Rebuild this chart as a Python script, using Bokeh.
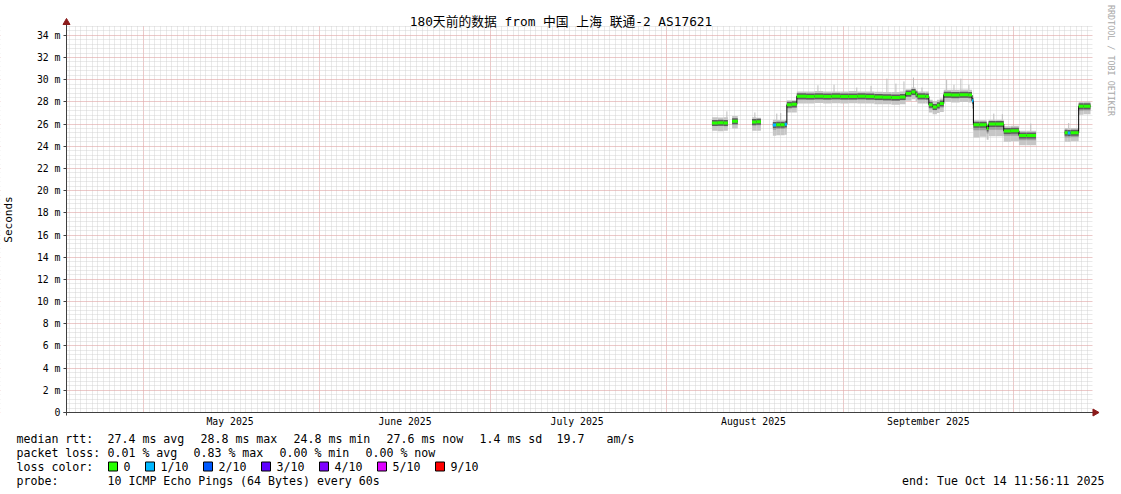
import math
import pandas as pd
from bokeh.plotting import figure
from bokeh.models import Range1d, FixedTicker, ColumnDataSource
from bokeh.core.properties import value
from bokeh.embed import file_html
from bokeh.resources import INLINE

MONO = "'DejaVu Sans Mono', 'Noto Sans CJK SC', monospace"

# ---------------- data ----------------
title_text = "180天前的数据 from 中国 上海 联通-2 AS17621"
range_start = "2025-04-17 11:56:11"
range_end = "2025-10-14 11:56:11"
y_top = 34.8

month_starts = ["2025-05-01", "2025-06-01", "2025-07-01", "2025-08-01",
                "2025-09-01", "2025-10-01"]
month_label_pos = ["2025-05-16 06:00", "2025-06-16 00:00", "2025-07-16 06:00",
                   "2025-08-16 06:00", "2025-09-16 00:00"]
month_labels = ["May 2025", "June 2025", "July 2025", "August 2025",
                "September 2025"]

y_ticks = [0, 2, 4, 6, 8, 10, 12, 14, 16, 18, 20, 22, 24, 26, 28, 30, 32, 34]
y_tick_labels = ["0", "2 m", "4 m", "6 m", "8 m", "10 m", "12 m", "14 m",
                 "16 m", "18 m", "20 m", "22 m", "24 m", "26 m", "28 m",
                 "30 m", "32 m", "34 m"]

# samples: each one lasts until the next start; None median = no data
sample_start = [
    "2025-08-08 23:00", "2025-08-10 00:00", "2025-08-11 00:00", "2025-08-11 18:00",
    "2025-08-12 12:00", "2025-08-13 12:00",
    "2025-08-16 00:00", "2025-08-16 18:00", "2025-08-17 13:30",
    "2025-08-19 16:00", "2025-08-20 06:00", "2025-08-21 00:00", "2025-08-21 18:00",
    "2025-08-22 03:00", "2025-08-23 00:00",
    "2025-08-23 21:00", "2025-08-25 12:00", "2025-08-27 00:00", "2025-08-28 12:00",
    "2025-08-30 00:00", "2025-08-31 12:00", "2025-09-02 00:00", "2025-09-03 12:00",
    "2025-09-05 00:00", "2025-09-06 12:00", "2025-09-08 00:00", "2025-09-09 12:00",
    "2025-09-11 00:00", "2025-09-12 00:00", "2025-09-13 00:00", "2025-09-13 18:00",
    "2025-09-14 02:00", "2025-09-15 12:00", "2025-09-16 02:00", "2025-09-16 18:00",
    "2025-09-17 12:00", "2025-09-18 00:00", "2025-09-18 17:00", "2025-09-20 00:00",
    "2025-09-21 12:00", "2025-09-23 00:00", "2025-09-23 16:00", "2025-09-23 22:00",
    "2025-09-25 00:00", "2025-09-26 06:00", "2025-09-26 14:00", "2025-09-27 18:00",
    "2025-09-29 06:00", "2025-09-30 12:00", "2025-10-01 22:00", "2025-10-03 06:00",
    "2025-10-04 22:00",
    "2025-10-09 23:00", "2025-10-10 12:00", "2025-10-11 00:00", "2025-10-12 10:00",
    "2025-10-13 06:00", "2025-10-14 11:56",
]
median_ms = [
    26.10, 26.12, 26.10, None,
    26.25, None,
    26.20, 26.22, None,
    25.92, 25.95, 25.95, 25.98,
    27.75, 27.78,
    28.52, 28.50, 28.52, 28.50,
    28.52, 28.50, 28.50, 28.52,
    28.48, 28.45, 28.42, 28.40,
    28.45, 28.75, 28.90, 28.70,
    28.52, 28.50, 27.75, 27.55,
    27.70, 27.85, 28.65, 28.62,
    28.65, 28.62, 28.10, 25.95,
    25.95, 25.60, 26.00, 26.00,
    25.38, 25.40, 24.98, 24.98,
    None,
    25.22, 25.20, 25.22, 27.60,
    27.62, None,
]
smoke_lo = [
    25.40, 25.35, 25.40, None,
    25.60, None,
    25.40, 25.40, None,
    24.95, 25.00, 25.00, 25.05,
    27.05, 27.05,
    27.85, 27.85, 27.90, 27.85,
    27.88, 27.85, 27.88, 27.85,
    27.85, 27.80, 27.78, 27.75,
    27.80, 28.10, 28.25, 28.05,
    27.85, 27.85, 27.05, 26.90,
    27.00, 27.10, 28.00, 27.95,
    28.00, 27.95, 27.40, 24.80,
    24.85, 24.60, 24.90, 24.90,
    24.40, 24.45, 24.10, 24.10,
    None,
    24.40, 24.40, 24.45, 26.85,
    26.90, None,
]
smoke_q1 = [
    25.85, 25.85, 25.80, None,
    25.95, None,
    25.85, 25.90, None,
    25.50, 25.55, 25.55, 25.60,
    27.40, 27.45,
    28.20, 28.20, 28.22, 28.20,
    28.22, 28.20, 28.20, 28.22,
    28.18, 28.15, 28.12, 28.10,
    28.15, 28.45, 28.60, 28.40,
    28.20, 28.20, 27.40, 27.25,
    27.35, 27.50, 28.35, 28.30,
    28.35, 28.30, 27.80, 25.45,
    25.45, 25.15, 25.50, 25.50,
    24.95, 24.95, 24.55, 24.55,
    None,
    24.80, 24.80, 24.82, 27.20,
    27.22, None,
]
smoke_q3 = [
    26.35, 26.35, 26.35, None,
    26.45, None,
    26.40, 26.40, None,
    26.15, 26.15, 26.12, 26.15,
    27.95, 27.98,
    28.70, 28.70, 28.72, 28.70,
    28.72, 28.70, 28.70, 28.72,
    28.68, 28.65, 28.62, 28.62,
    28.65, 28.95, 29.10, 28.90,
    28.72, 28.70, 27.95, 27.80,
    27.95, 28.05, 28.85, 28.85,
    28.88, 28.85, 28.30, 26.15,
    26.12, 25.80, 26.20, 26.18,
    25.58, 25.60, 25.18, 25.20,
    None,
    25.42, 25.40, 25.42, 27.80,
    27.82, None,
]
smoke_hi = [
    26.62, 26.60, 26.62, None,
    26.72, None,
    26.62, 26.58, None,
    26.40, 26.38, 26.35, 26.40,
    28.15, 28.15,
    28.95, 28.95, 28.98, 28.95,
    28.95, 28.95, 28.98, 28.95,
    28.95, 28.92, 28.90, 28.90,
    28.95, 29.15, 29.30, 29.10,
    28.95, 28.95, 28.20, 28.05,
    28.20, 28.30, 29.10, 29.10,
    29.12, 29.10, 28.55, 26.35,
    26.35, 26.05, 26.40, 26.40,
    25.80, 25.85, 25.40, 25.40,
    None,
    25.65, 25.65, 25.65, 28.00,
    28.02, None,
]
loss_count = [
    0, 0, 0, 0,
    0, 0,
    0, 0, 0,
    1, 0, 0, 1,
    0, 0,
    0, 0, 0, 0,
    0, 0, 0, 0,
    0, 0, 0, 0,
    0, 0, 0, 0,
    0, 0, 0, 0,
    0, 0, 0, 0,
    0, 0, 1, 0,
    0, 0, 0, 0,
    0, 0, 0, 0,
    0,
    0, 1, 0, 0,
    0, 0,
]

# occasional single high pings (smoke spikes)
spike_time = ["2025-08-11 14:00", "2025-08-16 12:00", "2025-08-20 08:30",
              "2025-08-21 01:00", "2025-08-27 14:00", "2025-08-30 10:00",
              "2025-09-03 10:00", "2025-09-05 22:00", "2025-09-08 17:00",
              "2025-09-10 07:00", "2025-09-11 17:00", "2025-09-13 09:00",
              "2025-09-14 21:00", "2025-09-19 05:00", "2025-09-20 12:00",
              "2025-09-21 17:00", "2025-09-23 03:00", "2025-09-27 12:00",
              "2025-09-29 00:00", "2025-10-04 00:00", "2025-10-10 16:00"]
spike_top = [27.15, 27.05, 26.95, 27.00, 29.50, 29.55, 29.30, 29.45, 30.10,
             29.65, 29.85, 30.20, 29.30, 30.00, 29.55, 30.10, 29.55, 26.95,
             26.90, 26.05, 26.10]

loss_levels = [0, 1, 2, 3, 4, 5, 9]
loss_names = ["0", "1/10", "2/10", "3/10", "4/10", "5/10", "9/10"]
loss_colors = ["#26ff00", "#00b8ff", "#0059ff", "#5e00ff", "#7e00ff",
               "#dd00ff", "#ff0000"]

stats_rtt = ["median rtt:", "27.4 ms avg", "28.8 ms max", "24.8 ms min",
             "27.6 ms now", "1.4 ms sd", "19.7", "am/s"]
stats_loss = ["packet loss:", "0.01 % avg", "0.83 % max", "0.00 % min",
              "0.00 % now"]
probe_text = ["probe:", "10 ICMP Echo Pings (64 Bytes) every 60s"]
end_text = "end: Tue Oct 14 11:56:11 2025"
watermark = "RRDTOOL / TOBI OETIKER"


def ms(s):
    return pd.Timestamp(s).value // 10**6


# ---------------- geometry (page pixels) ----------------
T0, T1 = ms(range_start), ms(range_end)
PX_T = (T1 - T0) / 1024.0          # time per pixel
PX_Y = y_top / 386.0               # rtt per pixel
AX_X, AX_Y = 66, 412               # page position of the axes corner


def X(px):  # page x -> data x
    return T0 + (px - AX_X) * PX_T


def Y(py):  # page y -> data y
    return (AX_Y - py) * PX_Y


W, H = 1116, 490
p = figure(width=W, height=H, output_backend="svg", toolbar_location=None,
           title=None,
           x_range=Range1d(X(0), X(W)), y_range=Range1d(Y(H), Y(0)),
           min_border_left=0, min_border_right=0, min_border_top=0,
           min_border_bottom=0)
p.outline_line_color = None
p.background_fill_color = "white"
p.border_fill_color = "white"

# grids
day_ticks = [ms(d) for d in pd.date_range("2025-04-18", "2025-10-14", freq="D")]
p.xgrid.ticker = FixedTicker(ticks=[ms(d) for d in month_starts],
                             minor_ticks=day_ticks)
p.ygrid.ticker = FixedTicker(ticks=y_ticks,
                             minor_ticks=[round(v * 0.4, 2) for v in range(1, 88)])
for g in (p.xgrid, p.ygrid):
    g.grid_line_color = "#f08c8c"
    g.grid_line_alpha = 0.7
    g.grid_line_dash = "1 1"
    g.minor_grid_line_color = "#d0d0d0"
    g.minor_grid_line_alpha = 0.9
    g.minor_grid_line_dash = "1 1"

# axes placed at the graph corner, taking no border space
label_ms = [ms(s) for s in month_label_pos]
p.xaxis.fixed_location = 0
p.xaxis.bounds = (T0, T1)
p.xaxis.ticker = FixedTicker(ticks=label_ms)
p.xaxis.major_label_overrides = dict(zip(label_ms, month_labels))
p.xaxis.major_tick_out = 0
p.xaxis.major_tick_in = 0
p.xaxis.major_label_standoff = 3
p.yaxis.fixed_location = T0
p.yaxis.bounds = (0, y_top)
p.yaxis.ticker = FixedTicker(ticks=y_ticks)
p.yaxis.major_label_overrides = dict(zip(y_ticks, y_tick_labels))
p.yaxis.major_tick_out = 3
p.yaxis.major_tick_in = 0
p.yaxis.major_label_standoff = 3
p.yaxis.axis_label = "Seconds"
p.yaxis.axis_label_text_font = MONO
p.yaxis.axis_label_text_font_size = "11px"
p.yaxis.axis_label_text_font_style = "normal"
p.yaxis.axis_label_text_color = "#000000"
p.yaxis.axis_label_standoff = 19
for ax in (p.xaxis, p.yaxis):
    ax.axis_line_color = "#404040"
    ax.major_tick_line_color = "#404040"
    ax.minor_tick_line_color = None
    ax.major_label_text_font = MONO
    ax.major_label_text_font_size = "9.8px"
    ax.major_label_text_color = "#000000"

# white margins (outside the graph area) hide the grid there
p.quad(left=[X(0), X(1092), X(0), X(0)],
       right=[X(AX_X), X(W), X(W), X(W)],
       bottom=[Y(H), Y(H), Y(25.6), Y(H)],
       top=[Y(0), Y(0), Y(0), Y(412.3)],
       fill_color="white", line_color=None)

# ---------------- data glyphs ----------------
starts = [ms(s) for s in sample_start]
L, R, M, LO, Q1, Q3, HI, COL = [], [], [], [], [], [], [], []
for i in range(len(starts) - 1):
    if median_ms[i] is None:
        continue
    L.append(starts[i]); R.append(starts[i + 1]); M.append(median_ms[i])
    LO.append(smoke_lo[i]); Q1.append(smoke_q1[i]); Q3.append(smoke_q3[i])
    HI.append(smoke_hi[i])
    COL.append(loss_colors[loss_levels.index(loss_count[i])])
src = ColumnDataSource(dict(left=L, right=R, med=M, lo=LO, q1=Q1, q3=Q3,
                            hi=HI, col=COL))

sp_t = [ms(s) for s in spike_time]
sp_base = []
for t in sp_t:
    base = None
    for i in range(len(L)):
        if L[i] <= t < R[i]:
            base = M[i]
    sp_base.append(base)
p.segment(x0=sp_t, x1=sp_t, y0=sp_base, y1=spike_top, line_color="#bdbdbd",
          line_width=1)

p.quad(left="left", right="right", bottom="lo", top="hi", source=src,
       fill_color="#c6c6c6", line_color=None)
p.quad(left="left", right="right", bottom="q1", top="q3", source=src,
       fill_color="#9e9e9e", line_color=None)
p.segment(x0="left", x1="right", y0="med", y1="med", source=src,
          line_color="#5e5e5e", line_width=6)

sx, sy = [], []
for i in range(len(starts) - 1):
    if median_ms[i] is None:
        sx.append(float("nan")); sy.append(float("nan"))
        continue
    sx += [starts[i], starts[i + 1]]
    sy += [median_ms[i], median_ms[i]]
p.line(sx, sy, line_color="#000000", line_width=1)
p.segment(x0="left", x1="right", y0="med", y1="med", source=src,
          line_color="col", line_width=3)

# ---------------- axis extensions and arrows ----------------
p.segment(x0=[X(63), X(AX_X)], y0=[0, Y(415)],
          x1=[X(1093), X(AX_X)], y1=[0, Y(23)],
          line_color="#404040", line_width=1)
p.scatter(x=[X(1094.5)], y=[0], marker="triangle", size=7, angle=-math.pi / 2,
          fill_color="#8b1a1a", line_color="#8b1a1a")
p.scatter(x=[X(AX_X)], y=[Y(22)], marker="triangle", size=7,
          fill_color="#8b1a1a", line_color="#8b1a1a")

# title and watermark
p.text(x=[X(560.5)], y=[Y(21)], text=[title_text], text_font=value(MONO),
       text_font_size="12.8px", text_align="center", text_baseline="middle",
       text_color="#000000")
p.text(x=[X(1110)], y=[Y(60)], text=[watermark], text_font=value(MONO),
       text_font_size="8.4px", text_align="center", text_baseline="middle",
       text_color="#a8a8a8", angle=-math.pi / 2)

# ---------------- statistics / legend lines ----------------
tx, ty, tt = [], [], []
for t, xx in zip(stats_rtt, [16, 107, 200, 293, 386, 479, 556, 606]):
    tx.append(xx); ty.append(438); tt.append(t)
for t, xx in zip(stats_loss, [16, 107, 193, 279, 365]):
    tx.append(xx); ty.append(452); tt.append(t)
tx.append(16); ty.append(466); tt.append("loss color:")
name_x = [123, 160, 218, 276, 334, 392, 450]
for nm, xx in zip(loss_names, name_x):
    tx.append(xx); ty.append(466); tt.append(nm)
tx += [16, 107]; ty += [480, 480]; tt += probe_text
p.text(x=[X(v) for v in tx], y=[Y(v) for v in ty], text=tt,
       text_font=value(MONO), text_font_size="11.6px", text_align="left",
       text_baseline="middle", text_color="#000000")
p.text(x=[X(1104)], y=[Y(480)], text=[end_text], text_font=value(MONO),
       text_font_size="11.6px", text_align="right", text_baseline="middle",
       text_color="#000000")
p.rect(x=[X(v - 10.5) for v in name_x], y=[Y(466)] * len(name_x),
       width=9 * PX_T, height=9 * PX_Y, fill_color=loss_colors,
       line_color="#000000", line_width=1)

open("out.html", "w").write(file_html(p, INLINE))
